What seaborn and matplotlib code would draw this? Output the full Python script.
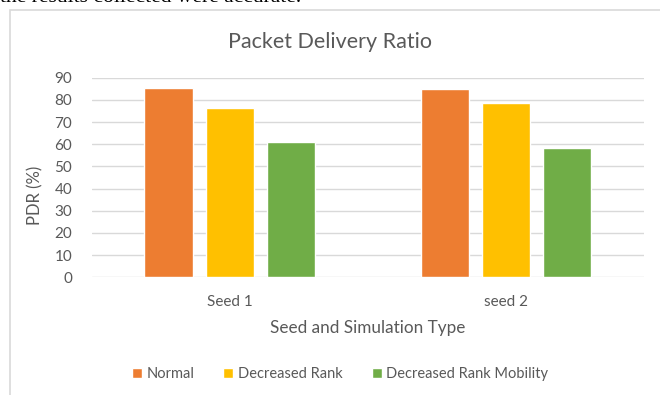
import numpy as np
import pandas as pd
import seaborn as sns
import matplotlib.pyplot as plt
from matplotlib.patches import Rectangle

# Data
categories = ['Seed 1', 'seed 2']
series = ['Normal', 'Decreased Rank', 'Decreased Rank Mobility']
normal = [85.3, 84.9]
decreased_rank = [76.2, 78.6]
decreased_rank_mobility = [60.9, 58.4]
colors = ['#ED7D31', '#FFC000', '#70AD47']
y_ticks = [0, 10, 20, 30, 40, 50, 60, 70, 80, 90]


def main():
    sns.set_style('white')
    plt.rcParams['font.family'] = ['Lato', 'DejaVu Sans']
    text_color = '#595959'

    df = pd.DataFrame({
        'Seed': categories * 3,
        'Type': np.repeat(series, len(categories)),
        'PDR': normal + decreased_rank + decreased_rank_mobility,
    })

    fig = plt.figure(figsize=(6.6, 3.95), dpi=100)
    ax = fig.add_axes([0.139, 0.298, 0.837, 0.505])

    # chart frame (cropped on the right and bottom in the screenshot)
    fig.patches.append(Rectangle((10 / 660, -0.1), 1.2, 1 - 10 / 395 + 0.1,
                                 transform=fig.transFigure, fill=False,
                                 edgecolor='#d9d9d9', linewidth=1.2, zorder=0))

    sns.barplot(data=df, x='Seed', y='PDR', hue='Type', palette=colors,
                width=0.666, gap=0.216, saturation=1, ax=ax, legend=True)

    ax.set_ylim(0, 90)
    ax.set_yticks(y_ticks)
    ax.grid(axis='y', color='#d9d9d9', linewidth=1)
    ax.set_axisbelow(True)
    for s in ax.spines.values():
        s.set_visible(False)
    ax.tick_params(axis='both', length=0, labelsize=11, colors=text_color)
    ax.tick_params(axis='y', pad=14)
    ax.tick_params(axis='x', pad=13)

    fig.text(0.5, 1 - 42 / 395, 'Packet Delivery Ratio', fontsize=15.5,
             color=text_color, ha='center', va='center')
    ax.set_xlabel('Seed and Simulation Type', fontsize=12.3, color=text_color, labelpad=8)
    ax.set_ylabel('PDR (%)', fontsize=12, color=text_color)
    ax.yaxis.set_label_coords(-0.088, 0.41)

    handles, labels = ax.get_legend_handles_labels()
    ax.legend_.remove()
    fig.legend(handles, labels, loc='center', bbox_to_anchor=(0.515, 0.053),
               ncol=3, frameon=False, fontsize=10.5, handlelength=0.7,
               handleheight=0.7, handletextpad=0.3, columnspacing=2.0,
               labelcolor=text_color)

    # cut-off caption line of the surrounding document
    fig.text(0.0, 1 - 2 / 395, 'the results collected were accurate.',
             family='Liberation Serif', fontsize=15.5, color='black',
             va='baseline', ha='left')

    fig.savefig('out.png', dpi=100)


if __name__ == "__main__":
    main()
